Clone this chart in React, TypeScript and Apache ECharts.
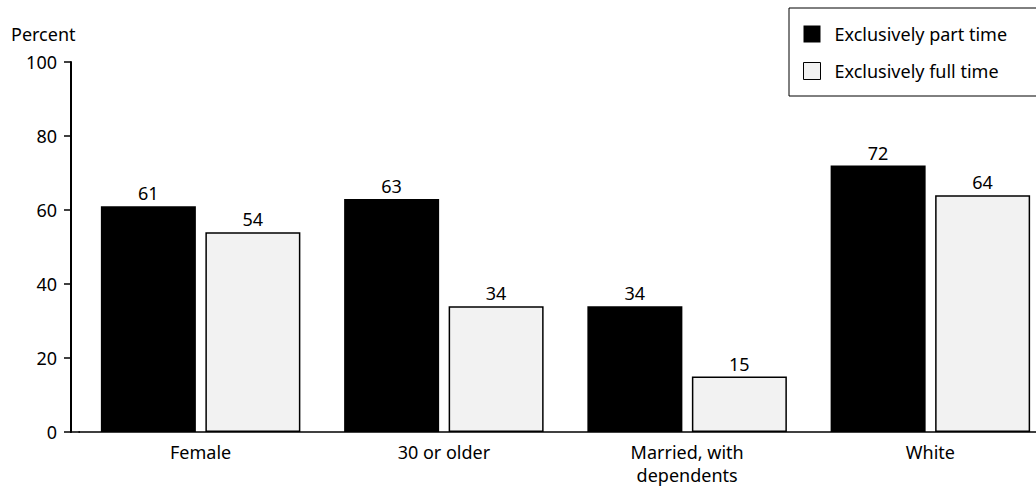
import React, { useEffect, useRef } from "react";
import * as echarts from "echarts";

const categories = ["Female", "30 or older", "Married, with\ndependents", "White"];
const partTime = [61, 63, 34, 72];
const fullTime = [54, 34, 15, 64];
const seriesNames = ["Exclusively part time", "Exclusively full time"];
const yTicks = [0, 20, 40, 60, 80, 100];

const FONT = "Noto Sans";

export default function App() {
  const ref = useRef<HTMLDivElement>(null);
  useEffect(() => {
    if (!ref.current) return;
    const chart = echarts.init(ref.current, null, { renderer: "svg" });
    chart.setOption({
      animation: false,
      backgroundColor: "#ffffff",
      textStyle: { fontFamily: FONT, color: "#000" },
      title: {
        text: "Percent",
        left: 11,
        top: 25,
        padding: 0,
        textStyle: { fontFamily: FONT, fontSize: 18, fontWeight: "normal", color: "#000" },
      },
      legend: {
        orient: "vertical",
        left: 789,
        top: 8,
        padding: [17, 60, 16, 14],
        itemGap: 19,
        itemWidth: 17,
        itemHeight: 17,
        borderColor: "#000",
        borderWidth: 1,
        borderRadius: 0,
        textStyle: { fontFamily: FONT, fontSize: 18, color: "#000", padding: [0, 0, 0, 9] },
        data: [
          { name: seriesNames[0], icon: "rect", itemStyle: { color: "#000", borderWidth: 0 } },
          { name: seriesNames[1], icon: "rect", itemStyle: { color: "#f2f2f2", borderColor: "#000", borderWidth: 1 } },
        ],
      },
      grid: { left: 79, right: 8, top: 62, bottom: 59 },
      xAxis: {
        type: "category",
        data: categories,
        axisLine: { show: true, lineStyle: { color: "#000", width: 1.5 } },
        axisTick: { show: false },
        axisLabel: { fontFamily: FONT, fontSize: 18, color: "#000", margin: 8, lineHeight: 23 },
      },
      yAxis: {
        type: "value",
        min: yTicks[0],
        max: yTicks[yTicks.length - 1],
        interval: 20,
        offset: 8,
        axisLine: { show: true, lineStyle: { color: "#000", width: 2 } },
        axisTick: { show: true, length: 7, lineStyle: { color: "#000", width: 1.5 } },
        axisLabel: { fontFamily: FONT, fontSize: 18, color: "#000", margin: 14 },
        splitLine: { show: false },
      },
      graphic: [
        { type: "line", shape: { x1: 70, y1: 432, x2: 80, y2: 432 }, style: { stroke: "#000", lineWidth: 1.5 } },
      ],
      series: [
        {
          name: seriesNames[0],
          type: "bar",
          data: partTime,
          barWidth: 95,
          barGap: "10%",
          itemStyle: { color: "#000" },
          label: { show: true, position: "top", distance: 4, fontFamily: FONT, fontSize: 18, color: "#000" },
        },
        {
          name: seriesNames[1],
          type: "bar",
          data: fullTime,
          barWidth: 95,
          itemStyle: { color: "#f2f2f2", borderColor: "#000", borderWidth: 1.5 },
          label: { show: true, position: "top", distance: 4, fontFamily: FONT, fontSize: 18, color: "#000" },
        },
      ],
    });
    return () => chart.dispose();
  }, []);
  return (
    <div
      style={{ position: "fixed", left: 0, top: 0, width: 1036, height: 491, overflow: "hidden", background: "#fff" }}
    >
      <div ref={ref} style={{ width: 1060, height: 491 }} />
    </div>
  );
}
